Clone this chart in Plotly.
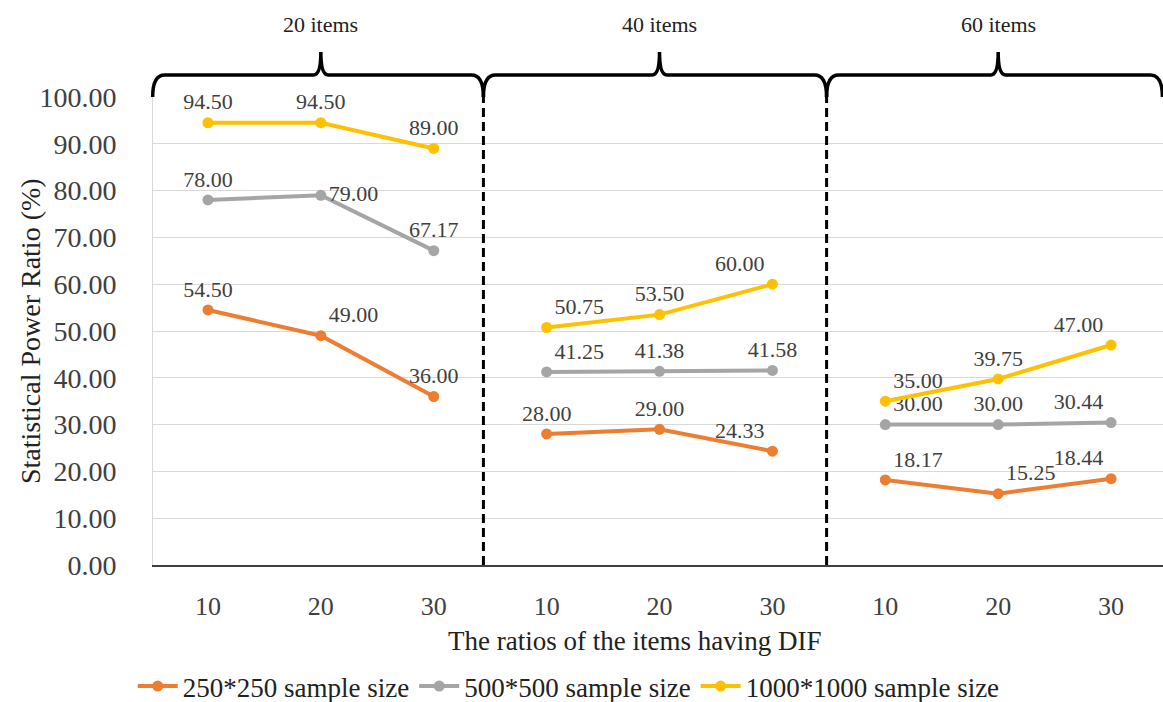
import plotly.graph_objects as go

# ---- data ----
groups = ["20 items", "40 items", "60 items"]
ratios = ["10", "20", "30"]
series_names = ["250*250 sample size", "500*500 sample size", "1000*1000 sample size"]
s250 = [[54.50, 49.00, 36.00], [28.00, 29.00, 24.33], [18.17, 15.25, 18.44]]
s500 = [[78.00, 79.00, 67.17], [41.25, 41.38, 41.58], [30.00, 30.00, 30.44]]
s1000 = [[94.50, 94.50, 89.00], [50.75, 53.50, 60.00], [35.00, 39.75, 47.00]]
y_ticks = [0, 10, 20, 30, 40, 50, 60, 70, 80, 90, 100]

# ---- styles ----
colors = ["#ED7D31", "#A5A5A5", "#FFC000"]
label_pos = [
    [["top center", "top right", "top center"], ["top center", "top center", "top left"], ["top right", "top right", "top left"]],
    [["top center", "middle right", "top center"], ["top right", "top center", "top center"], ["top right", "top center", "top left"]],
    [["top center", "top center", "top center"], ["top right", "top center", "top left"], ["top right", "top center", "top left"]],
]
FONT = "Liberation Serif, Times New Roman, serif"
TXT = "#404040"

fig = go.Figure()
all_series = [s250, s500, s1000]
for si, (name, data) in enumerate(zip(series_names, all_series)):
    for gi, vals in enumerate(data):
        xs = [gi * len(ratios) + ri for ri in range(len(ratios))]
        fig.add_trace(go.Scatter(
            x=xs, y=vals, mode="lines+markers+text",
            name=name, legendgroup=name, showlegend=(gi == 0),
            line=dict(color=colors[si], width=4),
            marker=dict(color=colors[si], size=11),
            text=[f"{v:.2f}" for v in vals],
            textposition=label_pos[si][gi],
            textfont=dict(family=FONT, size=22, color=TXT),
            cliponaxis=False,
        ))

x0, x1 = -0.487, 8.46
def d2p(x):
    return (x - x0) / (x1 - x0)

shapes = []
# dashed separators
for sx in [2.44, 5.48]:
    shapes.append(dict(type="line", xref="x", yref="paper", x0=sx, x1=sx, y0=0, y1=1,
                       line=dict(color="black", width=3, dash="9px,5px")))

# braces
bounds = [(-0.49, 2.44), (2.44, 5.48), (5.48, 8.455)]
yb, yl, yt = 1.0, 1.047, 1.096
annotations = []
for gi, (a, b) in enumerate(bounds):
    m = gi * 3 + 1
    pa, pb, pm = d2p(a), d2p(b), d2p(m)
    dx = 0.012
    path = (f"M {pa},{yb} Q {pa},{yl} {pa+dx},{yl} L {pm-dx*0.6},{yl} "
            f"Q {pm},{yl} {pm},{yt} Q {pm},{yl} {pm+dx*0.6},{yl} "
            f"L {pb-dx},{yl} Q {pb},{yl} {pb},{yb}")
    shapes.append(dict(type="path", xref="paper", yref="paper", path=path,
                       line=dict(color="black", width=3.5)))
    annotations.append(dict(x=m, y=1.155, xref="x", yref="paper", text=groups[gi],
                            showarrow=False, font=dict(family=FONT, size=22, color="#222"),
                            xanchor="center", yanchor="middle"))

annotations.append(dict(x=d2p(3.78), y=-0.163, xref="paper", yref="paper",
                        text="The ratios of the items having DIF", showarrow=False,
                        font=dict(family=FONT, size=27, color="#222"),
                        xanchor="center", yanchor="middle"))
annotations.append(dict(x=-(153 - 30) / 1010, y=0.5, xref="paper", yref="paper",
                        text="Statistical Power Ratio (%)", showarrow=False, textangle=-90,
                        font=dict(family=FONT, size=28, color="#222"),
                        xanchor="center", yanchor="middle"))

fig.update_layout(
    width=1163, height=702,
    margin=dict(l=153, r=0, t=97, b=137),
    paper_bgcolor="white", plot_bgcolor="white",
    font=dict(family=FONT, color=TXT),
    shapes=shapes, annotations=annotations,
    legend=dict(orientation="h", xref="container", yref="container",
                x=0.489, y=0.022, xanchor="center", yanchor="middle",
                font=dict(family=FONT, size=27, color="#222"),
                itemwidth=40, tracegroupgap=0),
)
fig.update_xaxes(
    range=[x0, x1], tickmode="array",
    tickvals=list(range(len(groups) * len(ratios))),
    ticktext=ratios * len(groups),
    tickfont=dict(family=FONT, size=26, color=TXT),
    showgrid=False, zeroline=False,
    showline=True, linecolor="#404040", linewidth=2,
    ticks="", ticklabelstandoff=17,
)
fig.update_yaxes(
    range=[0, 100], tickmode="array", tickvals=y_ticks,
    ticktext=[f"{v:.2f}" for v in y_ticks],
    tickfont=dict(family=FONT, size=28, color=TXT),
    showgrid=True, gridcolor="#D9D9D9", gridwidth=1,
    zeroline=False, showline=True, linecolor="#D9D9D9", linewidth=1,
    ticks="", ticklabelstandoff=30,
)

fig.write_html("out.html")
